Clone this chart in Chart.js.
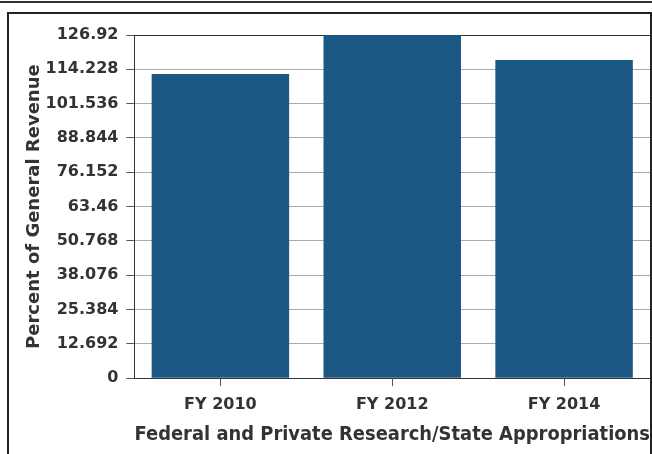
<!DOCTYPE html>
<html>
<head>
<meta charset="utf-8">
<script src="https://cdn.jsdelivr.net/npm/chart.js@4/dist/chart.umd.min.js"></script>
<style>
  html, body { margin: 0; padding: 0; background: #fff; }
  #wrap { position: relative; width: 652px; height: 454px; overflow: hidden; }
  #topline { position: absolute; left: 0; top: 1px; width: 652px; height: 2px; background: #333; }
  #box { position: absolute; left: 7px; top: 12px; width: 641px; height: 460px;
         border: 2px solid #222; border-bottom: none; }
  #chart { position: absolute; left: 0; top: 0; }
</style>
</head>
<body>
<div id="wrap">
  <div id="topline"></div>
  <div id="box"></div>
  <canvas id="chart" width="652" height="454"></canvas>
</div>
<script>
const categories = ['FY 2010', 'FY 2012', 'FY 2014']
const revenueShare = [112.5, 126.92, 117.7]
const yTicks = [0, 12.692, 25.384, 38.076, 50.768, 63.46, 76.152, 88.844, 101.536, 114.228, 126.92]

const textColor = '#333'
const fontFamily = '"DejaVu Sans", sans-serif'

new Chart(document.getElementById('chart').getContext('2d'), {
  type: 'bar',
  data: {
    labels: categories,
    datasets: [{
      data: revenueShare,
      backgroundColor: '#1b5783',
      borderWidth: 0,
      categoryPercentage: 0.8,
      barPercentage: 1.0
    }]
  },
  options: {
    responsive: false,
    animation: false,
    events: [],
    layout: {
      padding: { left: 20, top: 35, right: 2, bottom: 8 }
    },
    plugins: {
      legend: { display: false },
      tooltip: { enabled: false }
    },
    scales: {
      x: {
        grid: {
          display: true,
          offset: false,
          drawOnChartArea: false,
          drawTicks: true,
          tickLength: 8,
          color: '#555'
        },
        border: { color: '#333', width: 1 },
        ticks: {
          color: textColor,
          padding: 9,
          font: { family: fontFamily, size: 16, weight: 'bold' }
        },
        title: {
          display: true,
          text: 'Federal and Private Research/State Appropriations',
          color: textColor,
          padding: { top: 0, bottom: 0 },
          font: { family: fontFamily, size: 18.8, weight: 'bold' }
        }
      },
      y: {
        min: 0,
        max: 126.92,
        afterBuildTicks: (scale) => {
          scale.ticks = yTicks.map(v => ({ value: v }))
        },
        grid: {
          color: (ctx) => ctx.tick && ctx.tick.value === 126.92 ? '#333' : '#aaa',
          tickColor: '#555',
          tickLength: 8
        },
        border: { color: '#333', width: 1 },
        ticks: {
          color: textColor,
          padding: 8,
          font: { family: fontFamily, size: 16, weight: 'bold' },
          callback: (v) => String(+v.toFixed(3))
        },
        title: {
          display: true,
          text: 'Percent of General Revenue',
          color: textColor,
          // the scale reserves tick padding on both sides of the labels, take the outer one back
          padding: { top: 4, bottom: -8 },
          font: { family: fontFamily, size: 18, weight: 'bold' }
        }
      }
    }
  }
})
</script>
</body>
</html>
